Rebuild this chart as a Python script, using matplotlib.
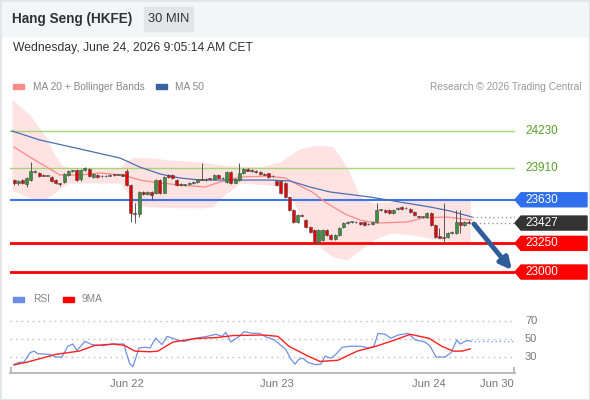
# Hang Seng (HKFE) 30 MIN chart - candles, MA/Bollinger, RSI panel

import matplotlib
matplotlib.use("Agg")
import matplotlib.pyplot as plt
from matplotlib.patches import Rectangle, Polygon

plt.rcParams['font.family'] = ['Liberation Sans', 'DejaVu Sans']

# -------------------------------
# Data
# -------------------------------
opens = [23802, 23776, 23802, 23767, 23802, 23872, 23863, 23846, 23840, 23828,
         23802, 23776, 23785, 23846, 23881, 23889, 23811, 23889, 23898, 23828,
         23846, 23837, 23833, 23840, 23850, 23846, 23852, 23881, 23759, 23514,
         23505, 23698, 23680, 23698, 23689, 23802, 23689, 23846, 23846, 23802,
         23767, 23759, 23765, 23776, 23785, 23811, 23805, 23815, 23811, 23846,
         23820, 23785, 23872, 23780, 23802, 23863, 23898, 23889, 23885, 23875,
         23855, 23860, 23840, 23794, 23794, 23776, 23654, 23541, 23436, 23497,
         23453, 23392, 23366, 23262, 23279, 23366, 23323, 23288, 23323, 23392,
         23427, 23436, 23440, 23432, 23436, 23420, 23415, 23436, 23541, 23545,
         23541, 23514, 23550, 23567, 23555, 23550, 23523, 23485, 23480, 23480,
         23514, 23410, 23310, 23305, 23305, 23340, 23340, 23436, 23410, 23436]
closes = [23776, 23794, 23776, 23820, 23881, 23881, 23837, 23840, 23846, 23794,
          23776, 23767, 23855, 23881, 23885, 23802, 23889, 23907, 23837, 23855,
          23828, 23833, 23840, 23850, 23846, 23852, 23840, 23759, 23514, 23505,
          23698, 23680, 23698, 23671, 23802, 23689, 23828, 23828, 23820, 23759,
          23759, 23765, 23776, 23785, 23811, 23805, 23815, 23811, 23846, 23820,
          23818, 23872, 23776, 23811, 23863, 23898, 23885, 23878, 23872, 23855,
          23850, 23828, 23835, 23759, 23689, 23654, 23541, 23436, 23497, 23490,
          23392, 23349, 23262, 23366, 23366, 23323, 23288, 23323, 23384, 23427,
          23436, 23440, 23432, 23420, 23410, 23415, 23436, 23541, 23545, 23523,
          23514, 23541, 23558, 23550, 23560, 23523, 23497, 23480, 23485, 23514,
          23410, 23305, 23300, 23300, 23340, 23349, 23436, 23410, 23436, 23427]
highs = [23815, 23800, 23810, 23825, 23959, 23890, 23870, 23852, 23850, 23835,
         23808, 23780, 23860, 23888, 23892, 23898, 23895, 23912, 23905, 23860,
         23852, 23843, 23846, 23855, 23856, 23858, 23858, 23895, 23765, 23600,
         23705, 23705, 23705, 23705, 23810, 23808, 23835, 23852, 23855, 23808,
         23772, 23770, 23782, 23790, 23815, 23950, 23820, 23820, 23852, 23852,
         23826, 23878, 23880, 23818, 23950, 23905, 23903, 23895, 23890, 23880,
         23862, 23866, 23846, 23800, 23800, 23782, 23660, 23548, 23503, 23505,
         23460, 23398, 23372, 23372, 23372, 23372, 23330, 23330, 23390, 23433,
         23442, 23446, 23446, 23438, 23442, 23426, 23442, 23602, 23552, 23552,
         23548, 23548, 23565, 23573, 23566, 23556, 23530, 23492, 23492, 23520,
         23520, 23416, 23384, 23602, 23346, 23355, 23541, 23541, 23442, 23450]
lows = [23760, 23755, 23770, 23745, 23795, 23865, 23830, 23835, 23835, 23788,
        23770, 23750, 23780, 23840, 23875, 23795, 23795, 23882, 23830, 23820,
        23822, 23828, 23828, 23835, 23840, 23842, 23835, 23750, 23436, 23427,
        23480, 23672, 23675, 23628, 23680, 23680, 23685, 23820, 23815, 23752,
        23752, 23752, 23760, 23770, 23780, 23800, 23798, 23805, 23805, 23815,
        23812, 23780, 23770, 23775, 23798, 23858, 23880, 23872, 23866, 23850,
        23845, 23822, 23830, 23752, 23680, 23645, 23535, 23430, 23430, 23485,
        23385, 23340, 23250, 23255, 23272, 23316, 23280, 23282, 23318, 23386,
        23420, 23430, 23426, 23414, 23404, 23408, 23410, 23430, 23535, 23516,
        23508, 23508, 23544, 23544, 23549, 23516, 23490, 23474, 23474, 23474,
        23404, 23298, 23295, 23253, 23298, 23334, 23334, 23340, 23404, 23420]

# moving averages (bar index, value)
ma50_x = [-0.5, 6.2, 15.8, 25.4, 30.2, 35, 39.8, 44.6, 54.2, 61.4, 66.2, 71, 75.8, 85.4,
          92.6, 99.8, 104.6, 109.8]
ma50 = [24230, 24151, 24073, 23994, 23915, 23855, 23820, 23802, 23802, 23802, 23794, 23741,
        23698, 23654, 23610, 23567, 23532, 23480]

ma20_x = [0, 3.8, 7, 11, 15.8, 20.6, 26.1, 30.2, 35, 39.8, 45.8, 49.4, 54.2, 60.7, 65,
          68.6, 71.5, 74.6, 79.4, 83, 87, 94.2, 98.1, 103.8, 109.8]
ma20 = [24090, 24003, 23933, 23846, 23846, 23863, 23846, 23802, 23776, 23759, 23741, 23785,
        23828, 23837, 23820, 23750, 23698, 23610, 23506, 23453, 23427, 23436, 23471, 23480, 23453]

band_x = [-0.5, 3.8, 7.4, 9.8, 11.5, 13.4, 18.2, 25.4, 27.1, 29, 32.6, 37.4, 44.6, 47.5, 49.9,
          54.2, 59, 63.8, 66.2, 68.6, 71.7, 73.9, 76.5, 79.9, 83, 86.1, 90.2, 95.7, 102.2, 109.4]
band_upper = [24508, 24369, 24190, 24020, 23933, 23910, 23907, 23907, 23977, 24000, 23995, 23977,
              23959, 23945, 23933, 23925, 23916, 23959, 24020, 24075, 24100, 24107, 24090, 23916,
              23654, 23602, 23610, 23628, 23645, 23628]
band_lower = [23715, 23645, 23637, 23689, 23741, 23776, 23776, 23776, 23700, 23584, 23567, 23562,
              23558, 23567, 23654, 23776, 23765, 23750, 23680, 23500, 23305, 23200, 23131, 23105,
              23192, 23279, 23340, 23323, 23279, 23262]

# support / resistance levels
resist_levels = [24230, 23910]
pivot_level = 23630
last_price = 23427
last_ma = 23480
support_levels = [23250, 23000]

# RSI panel
rsi_x = [0, 1.2, 2.4, 3.8, 4.8, 5.7, 8.4, 10.1, 11.5, 12.9, 14.1, 15.1, 17, 18.7, 21.3, 23.7,
         26.4, 26.9, 27.8, 28.5, 30, 31.4, 32.6, 34, 35.5, 36.7, 39.1, 40.8, 43.4, 46.3, 48.4,
         49.9, 50.8, 52, 54, 55.2, 57.1, 58.8, 60.7, 62.4, 63.8, 65.2, 66.4, 67.4, 68.3, 69.3,
         70.5, 72.4, 73.6, 74.6, 76, 77.2, 78.7, 80.6, 83.2, 84.9, 86.3, 87.3, 89, 90.4, 92.1,
         94.5, 96.2, 98.6, 99.8, 101.2, 103.4, 104.8, 106.2, 107, 108.4, 109.4]
rsi = [21.4, 24, 24.4, 34.7, 36.5, 33.6, 32.9, 30, 30, 41.9, 44.4, 37.2, 47.3, 43.7, 42.6, 44.4,
       44.4, 35, 22, 19.2, 40, 40.8, 40, 51, 43.7, 52.9, 49, 47.3, 50.8, 52.9, 55.2, 52.9, 57.4,
       46.6, 52.9, 58.1, 56.3, 56.3, 51.7, 49.2, 43.7, 38.3, 27.5, 22, 27.5, 28.6, 23.9, 21.4,
       22.2, 31, 28.6, 32.9, 40.8, 41.9, 41.9, 40, 41.9, 56.3, 55.2, 50.8, 54.4, 56.3, 49, 46.6,
       41.9, 30, 30, 34.7, 49, 44.4, 48, 48]
ma9_x = [0, 2.9, 10.1, 15.6, 19.2, 23.7, 26.4, 29, 32.6, 34.5, 38.1, 43.4, 48.9, 52.5, 59.7,
         63.3, 65.9, 70.5, 73.4, 77.7, 82.3, 86.8, 91.4, 95, 99.5, 102.6, 105.3, 107.4, 109.4]
ma9 = [21.4, 24, 33, 36.5, 42.6, 44.4, 43, 36.5, 35.8, 36.5, 46.6, 50.4, 51.7, 53.8, 54.4,
       52.9, 42, 31, 25, 26.4, 36.5, 41.9, 49, 55.2, 50.8, 41.9, 36.5, 36.5, 39]
rsi_levels = [70, 50, 30]

date_ticks = [27.1, 63.1, 99.5, 115.8]
date_labels = ["Jun 22", "Jun 23", "Jun 24", "Jun 30"]

# target arrow (from bar index / price to bar index / price)
arrow_from = (110.3, 23419)
arrow_to = (119.4, 23017)

# -------------------------------
# Figure layout
# -------------------------------
fig = plt.figure(figsize=(5.9, 4.0), dpi=100)

deco = fig.add_axes([0, 0, 1, 1])
deco.set_xlim(0, 590)
deco.set_ylim(400, 0)
deco.axis("off")

XMIN, XMAX = -0.96, 120.14
ax = fig.add_axes([10 / 590, 1 - 285 / 400, 505 / 590, 188 / 400])
ax2 = fig.add_axes([10 / 590, 1 - 373 / 400, 505 / 590, 63 / 400])
for a in (ax, ax2):
    a.set_facecolor("none")
    a.set_xlim(XMIN, XMAX)

LABEL_X = 1.0198   # right side label position (axes fraction)

# -------------------------------
# Header
# -------------------------------
deco.add_patch(Rectangle((0, 0), 590, 36, color="#f4f5f7", zorder=0))
deco.add_patch(Rectangle((0.5, 0.5), 589, 399, fill=False, edgecolor="#e4e5e8", lw=1.5))
deco.text(12, 19.5, "Hang Seng (HKFE)", fontsize=9.8, fontweight="bold", color="#333333", va="center")
deco.add_patch(Rectangle((144, 7), 49, 24, color="#e3e4e7"))
deco.text(168.5, 19.5, "30 MIN", fontsize=9.3, color="#333333", ha="center", va="center")
deco.text(13, 48, "Wednesday, June 24, 2026 9:05:14 AM CET", fontsize=8.7, color="#333333", va="center")

deco.add_patch(Rectangle((13, 84), 11, 5, color="#ff8a8a"))
deco.text(33, 86.5, "MA 20 + Bollinger Bands", fontsize=7.3, color="#888888", va="center")
deco.add_patch(Rectangle((156, 84), 11, 5, color="#3a62a0"))
deco.text(175, 86.5, "MA 50", fontsize=7.3, color="#888888", va="center")
deco.text(582, 86.5, "Research \u00a9 2026 Trading Central", fontsize=7.3, color="#999999",
          ha="right", va="center")

deco.add_patch(Rectangle((13, 297), 11, 5, color="#6a8de8"))
deco.text(33, 299.5, "RSI", fontsize=7.3, color="#888888", va="center")
deco.add_patch(Rectangle((63, 297), 11, 5, color="#ff0000"))
deco.text(82, 299.5, "9MA", fontsize=7.3, color="#888888", va="center")

# -------------------------------
# Price panel
# -------------------------------
ax.set_ylim(22887, 24526)
ax.axis("off")

ax.fill_between(band_x, band_lower, band_upper, color="#ffe2e2", lw=0, zorder=1)
ax.plot(ma20_x, ma20, color="#ff8a8a", lw=0.9, zorder=2)
ax.plot(ma50_x, ma50, color="#4a6fb0", lw=0.9, zorder=2)

for lvl in resist_levels:
    ax.axhline(lvl, color="#a5d67c", lw=1, zorder=1.5)
ax.axhline(pivot_level, color="#3f74e8", lw=1.5, zorder=1.5)
for lvl in support_levels:
    ax.axhline(lvl, color="#ff0000", lw=2, zorder=1.5)

# candles
for i in range(len(opens)):
    o, c = opens[i], closes[i]
    col = "#3b913b" if c >= o else "#e60000"
    ax.vlines(i, lows[i], highs[i], color="#555555", lw=0.7, zorder=3)
    body = max(abs(c - o), 5)
    ax.bar(i, body, bottom=min(o, c), width=0.72, color=col, edgecolor="#4a4a4a",
           linewidth=0.4, zorder=4)

# dotted last price lines
ax.hlines([last_price, last_ma], [109.5, 109.8], XMAX, colors="#999999", lw=1,
          linestyles=(0, (1, 2)), zorder=2)

# target arrow
ax.annotate("", xy=arrow_to, xytext=arrow_from, annotation_clip=False,
            arrowprops=dict(arrowstyle="-|>", color="#2f5c9a", lw=3.5,
                            mutation_scale=17, shrinkA=0, shrinkB=0), zorder=6)

# right-side labels
ytr = ax.get_yaxis_transform()
half = 7 * (24526 - 22887) / 188
for lvl in resist_levels:
    ax.text(LABEL_X, lvl, str(lvl), transform=ytr, fontsize=8.5, color="#5aa02c",
            va="center", clip_on=False)
tags = [(pivot_level, "#2f6fee"), (last_price, "#333333")] + [(s, "#ff0000") for s in support_levels]
for lvl, col in tags:
    pts = [(1.0, lvl), (1.0119, lvl + half), (1.1426, lvl + half),
           (1.1426, lvl - half), (1.0119, lvl - half)]
    ax.add_patch(Polygon(pts, closed=True, transform=ytr, color=col, clip_on=False, zorder=5))
    ax.text(LABEL_X, lvl, str(lvl), transform=ytr, fontsize=8.5, color="white",
            va="center", clip_on=False, zorder=6)

# -------------------------------
# RSI panel
# -------------------------------
ax2.set_ylim(12.2, 82.2)
for side in ["top", "right", "left"]:
    ax2.spines[side].set_visible(False)
ax2.spines["bottom"].set_color("#bbbbbb")
ax2.spines["bottom"].set_linewidth(1.5)
ax2.set_yticks([])
ax2.set_xticks(date_ticks)
ax2.set_xticklabels(date_labels, fontsize=8, color="#777777")
ax2.tick_params(axis="x", length=0, pad=4)
for xe in (XMIN + 0.3, XMAX - 0.3):
    ax2.axvline(xe, ymin=0, ymax=0.08, color="#bbbbbb", lw=1.5)

for lvl in rsi_levels:
    ax2.axhline(lvl, color="#bbbbbb", lw=1, linestyle=(0, (1, 3)))
    ax2.text(LABEL_X, lvl, str(lvl), transform=ax2.get_yaxis_transform(), fontsize=8,
             color="#777777", va="center", clip_on=False)

ax2.plot(rsi_x, rsi, color="#7090e8", lw=0.9)
ax2.plot(ma9_x, ma9, color="#ff2020", lw=1)
ax2.hlines(rsi[-1], rsi_x[-1], XMAX, colors="#8aa4ee", lw=1, linestyles=(0, (1, 2)))

fig.savefig("out.png", dpi=100)
print("Chart saved")
